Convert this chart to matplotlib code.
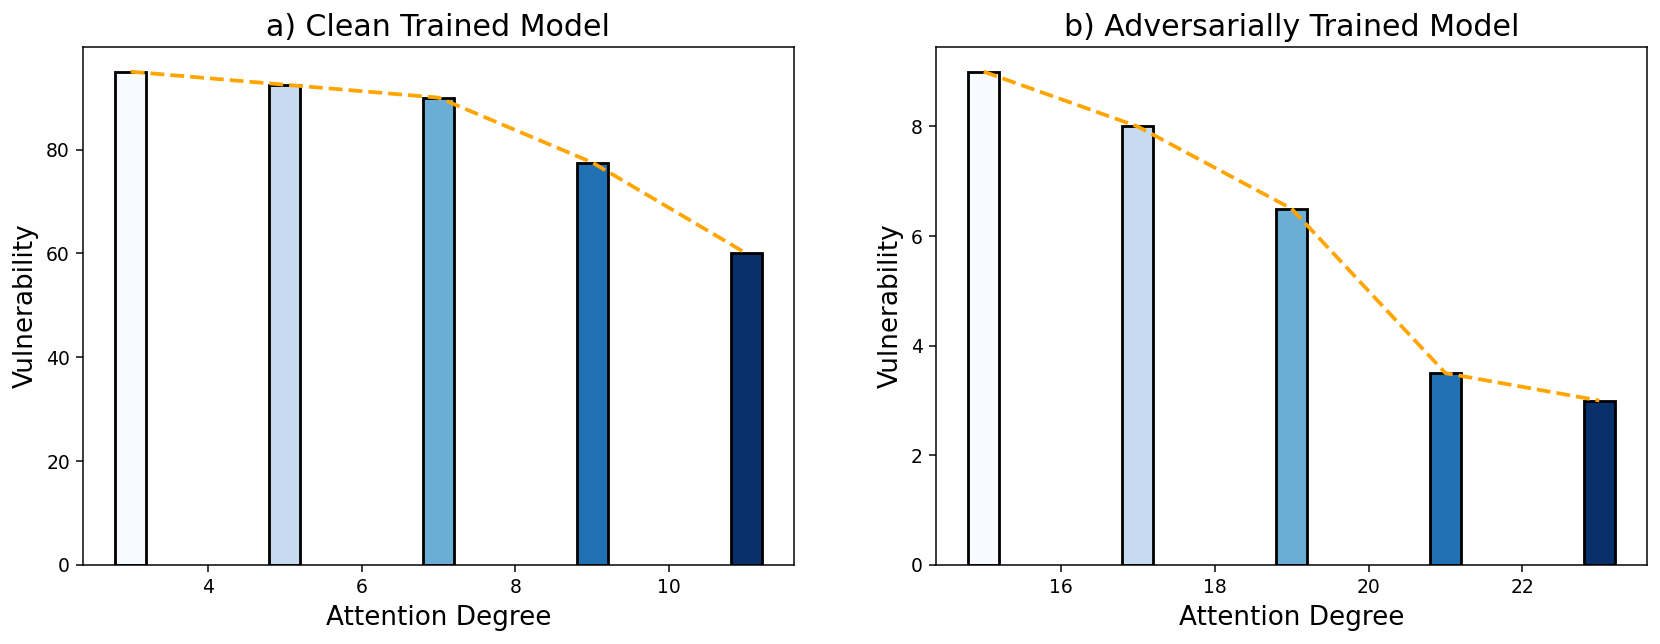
import matplotlib
matplotlib.use("Agg")
import matplotlib.pyplot as plt
import numpy as np

clean_degree = [3, 5, 7, 9, 11]
clean_vuln = [95, 92.5, 90, 77.5, 60]
adv_degree = [15, 17, 19, 21, 23]
adv_vuln = [9, 8, 6.5, 3.5, 3]
titles = ["a) Clean Trained Model", "b) Adversarially Trained Model"]

colors = plt.cm.Blues(np.linspace(0, 1, 5))

DPI = 135
fig = plt.figure(figsize=(1660/DPI, 644/DPI), dpi=DPI)
ax1 = fig.add_axes([0.0500, 0.1227, 0.4283, 0.8043])
ax2 = fig.add_axes([0.5639, 0.1227, 0.4283, 0.8043])

for ax, xs, ys, t in [(ax1, clean_degree, clean_vuln, titles[0]),
                      (ax2, adv_degree, adv_vuln, titles[1])]:
    ax.bar(xs, ys, width=0.4, color=colors, edgecolor="black", linewidth=1.5)
    ax.plot(xs, ys, linestyle="--", color="orange", linewidth=2)
    ax.set_title(t, fontsize=16)
    ax.set_xlabel("Attention Degree", fontsize=14)
    ax.set_ylabel("Vulnerability", fontsize=14)
    ax.tick_params(labelsize=10)

fig.savefig("out.png", dpi=DPI)
